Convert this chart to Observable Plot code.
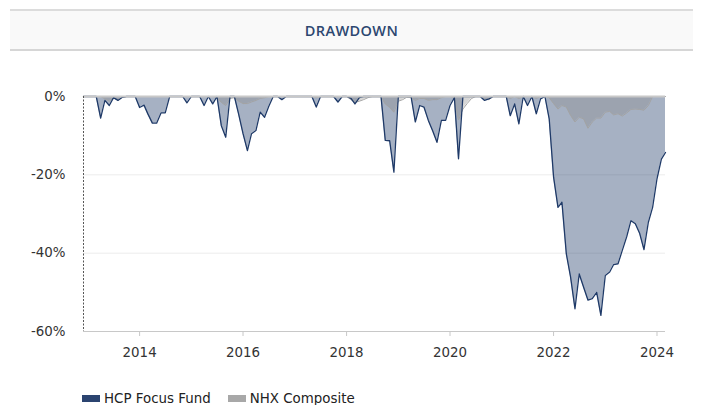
<!DOCTYPE html>
<html>
<head>
<meta charset="utf-8">
<script src="https://cdn.jsdelivr.net/npm/d3@7"></script>
<script src="https://cdn.jsdelivr.net/npm/@observablehq/plot@0.6"></script>
<style>
  html, body { margin: 0; padding: 0; background: #fff; width: 703px; height: 405px; overflow: hidden; font-family: "DejaVu Sans", Verdana, sans-serif; }
  #header { position: absolute; left: 10px; top: 9px; width: 683px; height: 38px; background: #f9f9f9; border-top: 2px solid #dcdcdc; border-bottom: 2px solid #d6d6d6; display: flex; align-items: center; justify-content: center; }
  #header span { font-family: "Open Sans", sans-serif; font-weight: 600; font-size: 14.5px; color: #2c4770; letter-spacing: 0.4px; }
  #chart { position: absolute; left: 0; top: 60px; }
  #legend { position: absolute; left: 82px; top: 391px; display: flex; align-items: center; font-size: 13.4px; color: #222; }
  .sw { display: inline-block; width: 18px; height: 7px; margin-right: 4px; }
  .item { display: flex; align-items: center; margin-right: 17px; }
</style>
</head>
<body>
<div id="header"><span>DRAWDOWN</span></div>
<div id="chart"></div>
<div id="legend"></div>
<script>
// Monthly drawdown (%), starting December 2012
const seriesNames = ["HCP Focus Fund", "NHX Composite"];
const seriesColors = ["#2b4470", "#a8a8a8"];
const startYear = 2012, startMonth = 11; // Dec 2012 (0-based month)

const fund = [
  0,
  // 2013
  0, 0, 0, -5.5, -1.0, -2.3, -0.3, -1.0, -0.2, 0, 0, 0,
  // 2014
  -2.8, -2.2, -4.5, -6.8, -6.8, -4.2, -4.2, 0, 0, 0, 0, -1.6,
  // 2015
  0, 0, 0, -2.3, 0, -1.9, 0, -7.5, -10.4, 0, 0, -4.5,
  // 2016
  -9.5, -13.8, -9.5, -8.7, -4.0, -5.3, -2.5, 0, 0, -0.8, 0, 0,
  // 2017
  0, 0, 0, 0, 0, -2.7, 0, 0, 0, 0, -1.4, 0,
  // 2018
  0, -0.5, -1.9, -0.3, 0, 0, 0, 0, 0, -11.2, -11.3, -19.3,
  // 2019
  0, 0, 0, 0, -6.5, -2.3, -2.7, -6.1, -8.8, -11.7, -6.1, -6.1,
  // 2020
  -2.3, -0.3, -15.9, 0, 0, 0, 0, 0, -1.0, -0.6, 0, 0,
  // 2021
  0, 0, -4.9, -1.9, -7.0, 0, -2.3, 0, -4.4, -0.6, 0, -5.7,
  // 2022
  -20.6, -28.3, -27.0, -40.2, -46.1, -54.2, -45.3, -48.7, -52.0, -51.6, -50.0, -55.9,
  // 2023
  -45.7, -44.8, -42.9, -42.7, -39.3, -35.8, -31.7, -32.5, -35.0, -39.1, -32.1, -28.3,
  // 2024
  -21.0, -16.0, -14.3
];

const nhx = [
  0,
  // 2013
  0, 0, 0, 0, -0.6, -1.2, -0.3, -1.0, -0.2, 0, 0, 0,
  // 2014
  0, 0, 0, 0, 0, 0, 0, 0, 0, 0, 0, 0,
  // 2015
  0, 0, 0, 0, 0, 0, -0.3, -1.5, -2.3, -0.5, -0.3, -1.2,
  // 2016
  -1.8, -1.8, -1.4, -1.0, -0.5, -0.3, 0, 0, 0, 0, 0, 0,
  // 2017
  0, 0, 0, 0, 0, -0.3, 0, 0, 0, 0, 0, 0,
  // 2018
  0, -0.8, -1.5, -1.2, -0.8, -0.3, 0, 0, 0, -1.9, -2.8, -4.0,
  // 2019
  -1.2, -0.8, -0.2, -0.3, -1.0, -0.5, -0.5, -1.0, -0.8, -0.8, -0.3, 0,
  // 2020
  0, -0.5, -6.0, -3.2, -1.8, -0.5, 0, 0, -0.6, -0.8, 0, 0,
  // 2021
  0, 0, -0.5, 0, -0.5, 0, 0, 0, -0.5, 0, 0, -0.3,
  // 2022
  -1.8, -3.2, -2.3, -2.7, -4.8, -6.5, -5.3, -5.7, -8.1, -6.5, -5.5, -5.5,
  // 2023
  -4.0, -3.8, -4.7, -4.4, -5.0, -4.2, -3.3, -3.2, -3.3, -3.5, -2.3, 0,
  // 2024
  0, 0, 0
];

const yTicks = [0, -20, -40, -60];
const xTickYears = [2014, 2016, 2018, 2020, 2022, 2024];

const dates = fund.map((_, i) => new Date(Date.UTC(startYear, startMonth + i, 1)));
const rows = dates.map((d, i) => ({date: d, fund: fund[i], nhx: nhx[i]}));
const xTicks = xTickYears.map(y => new Date(Date.UTC(y, 0, 1)));

const chart = Plot.plot({
  width: 703,
  height: 315,
  marginLeft: 83,
  marginRight: 38,
  marginTop: 36,
  marginBottom: 44,
  style: {fontFamily: "DejaVu Sans, Verdana, sans-serif", fontSize: "13.4px", background: "transparent", color: "#333"},
  x: {type: "utc", domain: [dates[0], dates[dates.length - 1]]},
  y: {domain: [-60, 0]},
  marks: [
    Plot.ruleY(yTicks.filter(v => v !== 0 && v !== -60), {stroke: "#ececec", strokeWidth: 1}),
    Plot.areaY(rows, {x: "date", y1: 0, y2: "fund", fill: seriesColors[0], fillOpacity: 0.42, curve: "linear"}),
    Plot.areaY(rows, {x: "date", y1: 0, y2: "nhx", fill: "#8a8a8a", fillOpacity: 0.35, curve: "linear"}),
    Plot.lineY(rows, {x: "date", y: "nhx", stroke: "#a3a3a3", strokeWidth: 1}),
    Plot.lineY(rows, {x: "date", y: "fund", stroke: "#1f3a68", strokeWidth: 1.3}),
    Plot.ruleY([0], {stroke: "#c8c8c8", strokeWidth: 2}),
    Plot.ruleY([-60], {stroke: "#c8c8c8", strokeWidth: 1}),
    Plot.ruleX([dates[0]], {stroke: "#555", strokeDasharray: "2,1.5", strokeWidth: 1}),
    Plot.axisX({ticks: xTicks, tickFormat: d3.utcFormat("%Y"), tickSize: 5, tickPadding: 11, stroke: "#c8c8c8", fill: "#333", label: null}),
    Plot.axisY({ticks: yTicks, tickFormat: d => d + "%", tickSize: 0, tickPadding: 18, fill: "#333", label: null})
  ]
});
document.getElementById("chart").appendChild(chart);

const legend = document.getElementById("legend");
seriesNames.forEach((name, i) => {
  const item = document.createElement("div");
  item.className = "item";
  const sw = document.createElement("span");
  sw.className = "sw";
  sw.style.background = seriesColors[i];
  const t = document.createElement("span");
  t.textContent = name;
  item.appendChild(sw);
  item.appendChild(t);
  legend.appendChild(item);
});
</script>
</body>
</html>
